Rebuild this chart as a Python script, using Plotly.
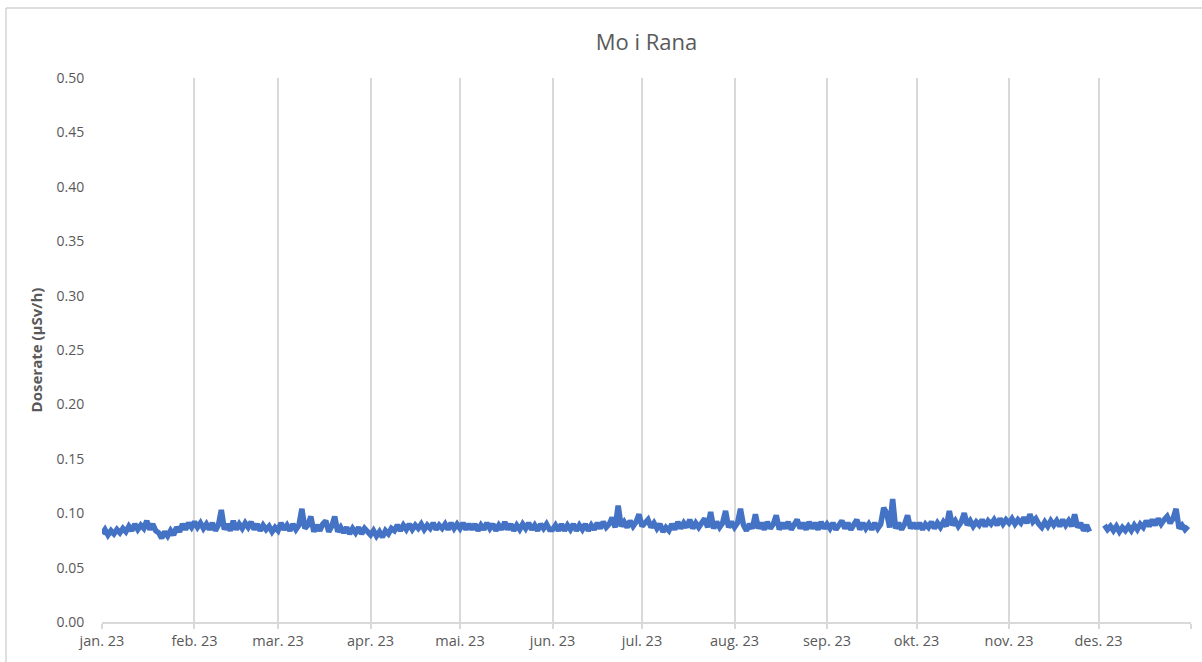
import pandas as pd
import plotly.graph_objects as go

title = "Mo i Rana"
y_title = "Doserate (µSv/h)"
month_starts = ["2023-01-01", "2023-02-01", "2023-03-01", "2023-04-01", "2023-05-01", "2023-06-01",
                "2023-07-01", "2023-08-01", "2023-09-01", "2023-10-01", "2023-11-01", "2023-12-01", "2024-01-01"]
month_labels = ["jan. 23", "feb. 23", "mar. 23", "apr. 23", "mai. 23", "jun. 23",
                "jul. 23", "aug. 23", "sep. 23", "okt. 23", "nov. 23", "des. 23", ""]
y_ticks = [0.00, 0.05, 0.10, 0.15, 0.20, 0.25, 0.30, 0.35, 0.40, 0.45, 0.50]

jan = [0.081,0.085,0.080,0.084,0.081,0.085,0.082,0.086,0.083,0.088,0.084,0.090,0.085,0.089,0.086,0.093,0.085,0.090,0.084,0.082,0.077,0.083,0.079,0.084,0.080,0.087,0.083,0.090,0.085,0.091,0.087]
feb = [0.092,0.087,0.091,0.086,0.090,0.085,0.091,0.084,0.089,0.103,0.085,0.090,0.084,0.093,0.085,0.090,0.086,0.091,0.087,0.092,0.085,0.090,0.084,0.089,0.085,0.088,0.083,0.087]
mar = [0.084,0.091,0.085,0.089,0.084,0.090,0.085,0.089,0.104,0.086,0.089,0.097,0.083,0.089,0.084,0.090,0.093,0.083,0.088,0.097,0.083,0.087,0.082,0.087,0.081,0.086,0.082,0.087,0.081,0.086,0.082]
apr = [0.080,0.084,0.079,0.083,0.078,0.084,0.081,0.086,0.084,0.089,0.084,0.089,0.085,0.090,0.085,0.089,0.086,0.090,0.085,0.089,0.086,0.091,0.085,0.089,0.086,0.090,0.085,0.091,0.086,0.090]
mai = [0.086,0.091,0.085,0.090,0.085,0.090,0.084,0.089,0.085,0.091,0.086,0.090,0.084,0.089,0.085,0.092,0.085,0.090,0.084,0.089,0.085,0.090,0.086,0.091,0.085,0.089,0.084,0.090,0.086,0.090,0.085]
jun = [0.085,0.089,0.084,0.090,0.084,0.089,0.085,0.090,0.084,0.089,0.085,0.090,0.084,0.089,0.085,0.091,0.086,0.092,0.087,0.090,0.096,0.087,0.107,0.088,0.092,0.087,0.093,0.088,0.092,0.099]
jul = [0.088,0.092,0.094,0.087,0.091,0.086,0.090,0.083,0.087,0.084,0.090,0.085,0.092,0.086,0.091,0.087,0.094,0.086,0.091,0.087,0.092,0.095,0.087,0.101,0.086,0.092,0.087,0.091,0.102,0.087,0.092]
aug = [0.087,0.091,0.104,0.089,0.084,0.090,0.086,0.099,0.086,0.091,0.085,0.092,0.086,0.090,0.098,0.085,0.091,0.086,0.092,0.085,0.090,0.094,0.086,0.091,0.085,0.092,0.086,0.091,0.085,0.092,0.086]
sep = [0.090,0.086,0.091,0.085,0.090,0.093,0.086,0.091,0.085,0.090,0.094,0.085,0.091,0.086,0.090,0.085,0.091,0.086,0.090,0.105,0.100,0.087,0.113,0.086,0.091,0.085,0.090,0.098,0.086,0.091]
okt = [0.086,0.091,0.085,0.090,0.087,0.092,0.086,0.091,0.087,0.092,0.088,0.102,0.089,0.093,0.088,0.092,0.100,0.089,0.093,0.088,0.092,0.089,0.094,0.088,0.093,0.090,0.094,0.089,0.095,0.090,0.094]
nov = [0.091,0.095,0.090,0.094,0.091,0.096,0.091,0.099,0.092,0.095,0.090,0.087,0.092,0.088,0.093,0.089,0.093,0.088,0.094,0.089,0.093,0.088,0.099,0.087,0.091,0.084,0.089,0.083,None,None]
des = [None,None,0.089,0.085,0.088,0.084,0.088,0.083,0.087,0.084,0.088,0.084,0.089,0.085,0.090,0.087,0.093,0.088,0.094,0.089,0.095,0.090,0.094,0.097,0.091,0.095,0.104,0.086,0.089,0.085,0.088]

values = jan + feb + mar + apr + mai + jun + jul + aug + sep + okt + nov + des
dates = pd.date_range("2023-01-01", periods=len(values), freq="D")

grey = "#595959"
font = "'Open Sans', sans-serif"

fig = go.Figure()
fig.add_trace(go.Scatter(x=dates, y=values, mode="lines",
                         line=dict(color="#4472C4", width=5.5),
                         connectgaps=False, showlegend=False, hoverinfo="skip"))

fig.update_layout(
    width=1202, height=662,
    margin=dict(l=102, r=11, t=78, b=40),
    paper_bgcolor="white", plot_bgcolor="white",
    title=dict(text=title, x=0.5, xref="paper", y=1 - 42 / 662, yref="container", yanchor="middle",
               font=dict(family=font, size=22, color=grey)),
    font=dict(family=font, color=grey),
    xaxis=dict(range=["2023-01-01", "2024-01-01"], tickvals=month_starts, ticktext=month_labels,
               showgrid=True, gridcolor="#d9d9d9", gridwidth=1.5,
               showline=True, linecolor="#d9d9d9", linewidth=1.5,
               ticks="outside", ticklen=5, tickcolor="#d9d9d9", tickwidth=1.5,
               tickfont=dict(size=14.5, color=grey), zeroline=False),
    yaxis=dict(range=[0, 0.5], tickvals=y_ticks, tickformat=".2f",
               showgrid=False, zeroline=False, showline=False,
               ticks="outside", ticklen=14, tickcolor="rgba(0,0,0,0)",
               tickfont=dict(size=14, color=grey),
               title=dict(text="<b>" + y_title + "</b>", font=dict(size=15, color=grey), standoff=10)),
    shapes=[dict(type="rect", xref="paper", yref="paper",
                 x0=(6 - 102) / 1089, x1=(1210 - 102) / 1089,
                 y0=(622 - 670) / 544, y1=(622 - 8) / 544,
                 line=dict(color="#bfbfbf", width=1), layer="below")],
)

fig.write_html("out.html", config={"displayModeBar": False},
               post_script="document.body.style.margin='0';")
